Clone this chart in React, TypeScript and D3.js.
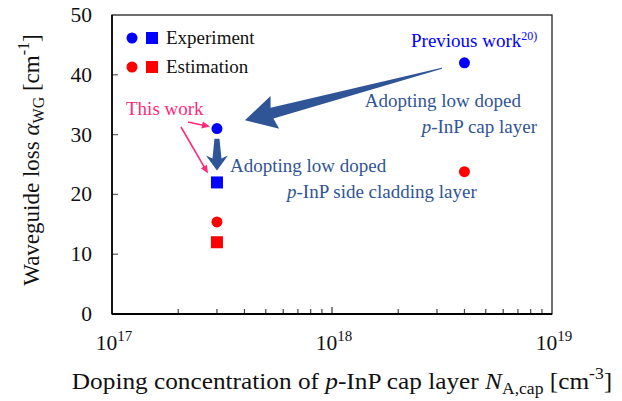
import React from "react";
import * as d3 from "d3";

// Measured waveguide loss vs. cap-layer doping
const expCircleX = [3e17, 4e18];
const expCircleY = [31, 42];
const expSquareX = [3e17];
const expSquareY = [22];
const estCircleX = [3e17, 4e18];
const estCircleY = [15.4, 23.8];
const estSquareX = [3e17];
const estSquareY = [12];

const yTicks = [0, 10, 20, 30, 40, 50];
const xDecades = [17, 18, 19];

const W = 622;
const H = 401;
const M = { left: 112, right: 552, top: 15, bottom: 314 };

const BLUE = "#0000ff";
const RED = "#ff0000";
const NAVY = "#2f5597";
const PINK = "#ff2a78";
const SERIF = "'Liberation Serif', 'Times New Roman', serif";
const ANN = 19;

// Tapered arrow: thin at the tail, wide neck, triangular head.
function taperedArrow(
  x0: number, y0: number, x1: number, y1: number,
  wTail: number, wNeck: number, headLen: number, headW: number
) {
  const dx = x1 - x0, dy = y1 - y0;
  const L = Math.hypot(dx, dy);
  const ux = dx / L, uy = dy / L;
  const nx = -uy, ny = ux;
  const bx = x1 - ux * headLen, by = y1 - uy * headLen;
  const p = (x: number, y: number, w: number) => [x + nx * w / 2, y + ny * w / 2];
  const q = (x: number, y: number, w: number) => [x - nx * w / 2, y - ny * w / 2];
  const pts = [
    p(x0, y0, wTail), p(bx, by, wNeck), p(bx - ux * 3, by - uy * 3, headW),
    [x1, y1],
    q(bx - ux * 3, by - uy * 3, headW), q(bx, by, wNeck), q(x0, y0, wTail),
  ];
  return "M" + pts.map((d) => d.join(",")).join("L") + "Z";
}

function thinArrow(x0: number, y0: number, x1: number, y1: number, color: string) {
  const dx = x1 - x0, dy = y1 - y0;
  const L = Math.hypot(dx, dy);
  const ux = dx / L, uy = dy / L;
  const nx = -uy, ny = ux;
  const hl = 8, hw = 7;
  const bx = x1 - ux * hl, by = y1 - uy * hl;
  const head = `M${x1},${y1}L${bx + nx * hw / 2},${by + ny * hw / 2}L${bx - nx * hw / 2},${by - ny * hw / 2}Z`;
  return (
    <g>
      <line x1={x0} y1={y0} x2={bx + ux * 1} y2={by + uy * 1} stroke={color} strokeWidth={1.6} />
      <path d={head} fill={color} />
    </g>
  );
}

export default function App() {
  const x = d3.scaleLog().domain([1e17, 1e19]).range([M.left, M.right]);
  const y = d3.scaleLinear().domain([0, 50]).range([M.bottom, M.top]);

  const minor: number[] = [];
  for (const d of [17, 18]) for (let k = 2; k <= 9; k++) minor.push(k * Math.pow(10, d));

  const r = 5.5;
  const s = 12;

  const circles = (xs: number[], ys: number[], c: string) =>
    xs.map((v, i) => <circle key={c + i} cx={x(v)} cy={y(ys[i])} r={r} fill={c} />);
  const squares = (xs: number[], ys: number[], c: string) =>
    xs.map((v, i) => (
      <rect key={c + i} x={x(v) - s / 2} y={y(ys[i]) - s / 2} width={s} height={s} fill={c} />
    ));

  // annotation anchors in data space
  const bigTail = [x(3.16e18), y(41.1)];
  const bigTip = [x(4.02e17), y(32.4)];
  const smTail = [x(3e17), y(29.3)];
  const smTip = [x(3e17), y(24.0)];

  return (
    <svg width={W} height={H} style={{ position: "absolute", left: 0, top: 0 }} fontFamily={SERIF}>
      <rect width={W} height={H} fill="#fff" />

      {/* y ticks */}
      {yTicks.map((t) => (
        <g key={"y" + t}>
          {t > 0 && t < 50 && (
            <line x1={M.left} x2={M.left + 6} y1={y(t)} y2={y(t)} stroke="#666" strokeWidth={1.3} />
          )}
          <text x={92} y={y(t) + 7} textAnchor="end" fontSize={21.5} fill="#111">{t}</text>
        </g>
      ))}

      {/* x ticks */}
      {minor.map((v) => (
        <line key={"m" + v} x1={x(v)} x2={x(v)} y1={M.bottom} y2={M.bottom - 5} stroke="#444" strokeWidth={1.2} />
      ))}
      <line x1={x(1e18)} x2={x(1e18)} y1={M.bottom} y2={M.bottom - 7} stroke="#444" strokeWidth={1.3} />
      {xDecades.map((d) => (
        <text key={"xd" + d} x={x(Math.pow(10, d)) + 2} y={350} textAnchor="middle" fontSize={21.5} fill="#111">
          10<tspan dy={-9} fontSize={15}>{d}</tspan>
        </text>
      ))}

      {/* frame */}
      <rect x={M.left} y={M.top} width={M.right - M.left} height={M.bottom - M.top} fill="none" stroke="#222" strokeWidth={1.3} />
      <line x1={M.left} x2={M.right} y1={M.bottom} y2={M.bottom} stroke="#000" strokeWidth={1.8} />
      <line x1={M.left} x2={M.left} y1={M.top} y2={M.bottom} stroke="#000" strokeWidth={1.6} />

      {/* legend */}
      <circle cx={132} cy={38} r={r} fill={BLUE} />
      <rect x={152 - s / 2} y={38 - s / 2} width={s} height={s} fill={BLUE} />
      <text x={166} y={44} fontSize={ANN} fill="#111">Experiment</text>
      <circle cx={132} cy={67} r={r} fill={RED} />
      <rect x={152 - s / 2} y={67 - s / 2} width={s} height={s} fill={RED} />
      <text x={166} y={73} fontSize={ANN} fill="#111">Estimation</text>

      {/* arrows */}
      <path d={taperedArrow(bigTail[0], bigTail[1], bigTip[0], bigTip[1], 1, 11, 28, 34)} fill={NAVY} />
      <path d={taperedArrow(smTail[0], smTail[1], smTip[0], smTip[1], 5, 9, 12, 22)} fill={NAVY} />

      {/* data */}
      {circles(expCircleX, expCircleY, BLUE)}
      {squares(expSquareX, expSquareY, BLUE)}
      {circles(estCircleX, estCircleY, RED)}
      {squares(estSquareX, estSquareY, RED)}

      {/* annotations */}
      <text x={411} y={47} fontSize={ANN} fill={BLUE}>
        Previous work<tspan dy={-7} fontSize={12}>20)</tspan>
      </text>
      <text x={521} y={107} textAnchor="end" fontSize={ANN} fill={NAVY}>Adopting low doped</text>
      <text x={537} y={133} textAnchor="end" fontSize={ANN} fill={NAVY}>
        <tspan fontStyle="italic">p</tspan>-InP cap layer
      </text>
      <text x={230} y={172} fontSize={ANN} fill={NAVY}>Adopting low doped</text>
      <text x={287} y={198} fontSize={ANN} fill={NAVY}>
        <tspan fontStyle="italic">p</tspan>-InP side cladding layer
      </text>
      <text x={126} y={115} fontSize={ANN} fill={PINK}>This work</text>
      {thinArrow(188, 122, x(3e17) - 7, y(31) - 2, PINK)}
      {thinArrow(181, 127, x(3e17) - 9, y(22) - 9, PINK)}

      {/* axis titles */}
      <text transform="translate(342,389) scale(1.1,1)" textAnchor="middle" fontSize={23} fill="#111">
        Doping concentration of <tspan fontStyle="italic">p</tspan>-InP cap layer{" "}
        <tspan fontStyle="italic">N</tspan>
        <tspan dy={5} fontSize={16}>A,cap</tspan>
        <tspan dy={-5}> [cm</tspan>
        <tspan dy={-10} fontSize={16}>-3</tspan>
        <tspan dy={10}>]</tspan>
      </text>
      <text transform={`translate(39,160) rotate(-90)`} textAnchor="middle" fontSize={23} fill="#111">
        Waveguide loss <tspan fontStyle="italic">α</tspan>
        <tspan dy={5} fontSize={16}>WG</tspan>
        <tspan dy={-5}> [cm</tspan>
        <tspan dy={-10} fontSize={16}>-1</tspan>
        <tspan dy={10}>]</tspan>
      </text>
    </svg>
  );
}
